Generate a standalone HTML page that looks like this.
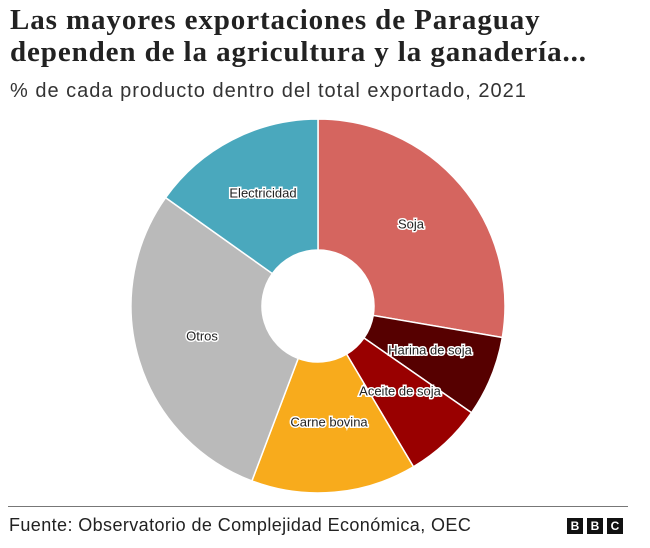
<!DOCTYPE html>
<html><head><meta charset="utf-8"><style>
body{margin:0;background:#fff;width:650px;height:548px;overflow:hidden;position:relative;font-family:"Liberation Sans",sans-serif;}
.t{position:absolute;left:10px;top:4px;font-family:"Liberation Serif",serif;font-size:29px;line-height:32px;color:#222;font-weight:bold;letter-spacing:0.9px}
.s{position:absolute;left:10px;top:80px;font-size:20px;color:#333;letter-spacing:1px}
.f{position:absolute;left:9px;top:515px;font-size:18px;color:#222;letter-spacing:0.4px}
.line{position:absolute;left:8px;top:506px;width:620px;height:1px;background:#777}
.b{position:absolute;top:518px;width:16px;height:16px;background:#111;color:#fff;font-size:12px;font-weight:bold;text-align:center;line-height:16px}
</style></head><body>
<div class="t">Las mayores exportaciones de Paraguay<br>dependen de la agricultura y la ganadería...</div>
<div class="s">% de cada producto dentro del total exportado, 2021</div>
<svg id="c" width="650" height="548" style="position:absolute;left:0;top:0"></svg>
<div class="line"></div>
<div class="f">Fuente: Observatorio de Complejidad Económica, OEC</div>
<div class="b" style="left:567px">B</div><div class="b" style="left:587px">B</div><div class="b" style="left:607px">C</div>
<script>
var cx=318,cy=306,R=187,r=56;
var segs=[[0,99.7,"#d5655f"],[99.7,124.8,"#560000"],[124.8,149.3,"#990000"],[149.3,200.7,"#f8ab1c"],[200.7,305.4,"#bababa"],[305.4,360,"#4aa8bd"]];
function p(a,rad){a=a*Math.PI/180;return (cx+rad*Math.sin(a)).toFixed(2)+","+(cy-rad*Math.cos(a)).toFixed(2);}
var s="";
segs.forEach(function(g){var l=(g[1]-g[0])>180?1:0;
s+='<path d="M'+p(g[0],R)+' A'+R+','+R+' 0 '+l+' 1 '+p(g[1],R)+' L'+p(g[1],r)+' A'+r+','+r+' 0 '+l+' 0 '+p(g[0],r)+' Z" fill="'+g[2]+'" stroke="#fff" stroke-width="1.5"/>';});
var labs=[["Soja",411,225],["Harina de soja",430,351],["Aceite de soja",400,392],["Carne bovina",329,423],["Otros",202,337],["Electricidad",263,194]];
labs.forEach(function(l){s+='<text x="'+l[1]+'" y="'+l[2]+'" text-anchor="middle" font-family="Liberation Sans, sans-serif" font-size="13" fill="#222" stroke="#fff" stroke-width="3" paint-order="stroke" dominant-baseline="middle">'+l[0]+'</text>';});
document.getElementById("c").innerHTML=s;
</script>
</body></html>
